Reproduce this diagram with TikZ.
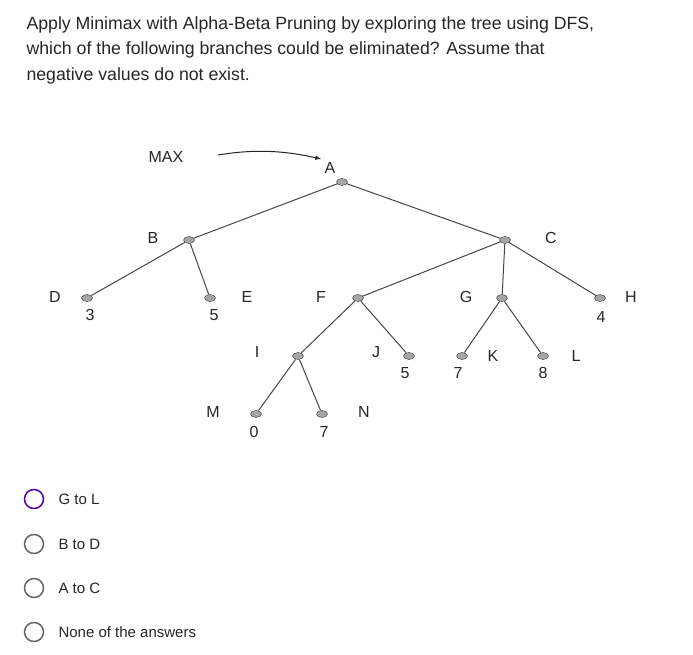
\documentclass[tikz,border=0pt]{standalone}
\usepackage{fontspec}
\setmainfont{Liberation Sans}
\usetikzlibrary{shapes.geometric}
\begin{document}
\begin{tikzpicture}[x=1pt,y=-1pt,
  dot/.style={ellipse,fill=gray!70,draw=gray!40!black,line width=0.4pt,inner sep=0pt,minimum width=11pt,minimum height=7pt},
  edge/.style={draw=gray!55!black,line width=1pt},
  lbl/.style={font=\fontsize{16}{18}\selectfont,text=black!85},
  q/.style={font=\fontsize{17.7}{20}\selectfont,anchor=base west,text=black!85},
  opt/.style={font=\fontsize{15}{17}\selectfont,anchor=west,text=black!85},
  radio/.style={circle,draw=gray!80!black,line width=1.5pt,minimum size=19pt,inner sep=0pt}]
\useasboundingbox (0,0) rectangle (693,655);
\node[q] (q1) at (23,30) {Apply Minimax with Alpha-Beta Pruning by exploring the tree using DFS,};
\node[q] (q2) at (23,55) {which of the following branches could be eliminated? Assume that};
\node[q] (q3) at (23,81) {negative values do not exist.};
\foreach \n/\x/\y in {A/342/182,B/189/240,C/505/240,D/87/298,E/210/298,F/358/298,G/502/298,H/600/298,I/298/356,J/409/356,K/462/356,L/543/356,M/256/414,N/322/414}
  \node[dot] (\n) at (\x,\y) {};
\foreach \a/\b in {A/B,A/C,B/D,B/E,C/F,C/G,C/H,F/I,F/J,G/K,G/L,I/M,I/N}
  \draw[edge] (\a) -- (\b);
\node[lbl] (lmax) at (166,157) {MAX};
\node[lbl] (lA) at (330,168) {A};
\coordinate (m0) at (218,155);
\draw[gray!30!black,line width=1pt,-latex] (m0) .. controls (260,148) and (290,152) .. (lA.north west);
\node[lbl] (lB) at (153,238) {B};
\node[lbl] (lC) at (551,238) {C};
\node[lbl] (lD) at (55,297) {D};
\node[lbl] (vD) at (90,315) {3};
\node[lbl] (lE) at (247,297) {E};
\node[lbl] (vE) at (214,315) {5};
\node[lbl] (lF) at (321,297) {F};
\node[lbl] (lG) at (466,297) {G};
\node[lbl] (lH) at (631,297) {H};
\node[lbl] (vH) at (601,317) {4};
\node[lbl] (lI) at (257,352) {I};
\node[lbl] (lJ) at (376,352) {J};
\node[lbl] (vJ) at (405,373) {5};
\node[lbl] (lK) at (493,356) {K};
\node[lbl] (vK) at (458,373) {7};
\node[lbl] (lL) at (576,356) {L};
\node[lbl] (vL) at (543,373) {8};
\node[lbl] (lM) at (213,412) {M};
\node[lbl] (vM) at (254,432) {0};
\node[lbl] (lN) at (364,412) {N};
\node[lbl] (vN) at (324,432) {7};
\node[radio,draw=violet!70!blue] (r1) at (34,499) {};
\node[radio] (r2) at (34,544) {};
\node[radio] (r3) at (34,588) {};
\node[radio] (r4) at (34,632) {};
\node[opt] (o1) at (55,499) {G to L};
\node[opt] (o2) at (55,544) {B to D};
\node[opt] (o3) at (55,588) {A to C};
\node[opt] (o4) at (55,632) {None of the answers};
\end{tikzpicture}
\end{document}
